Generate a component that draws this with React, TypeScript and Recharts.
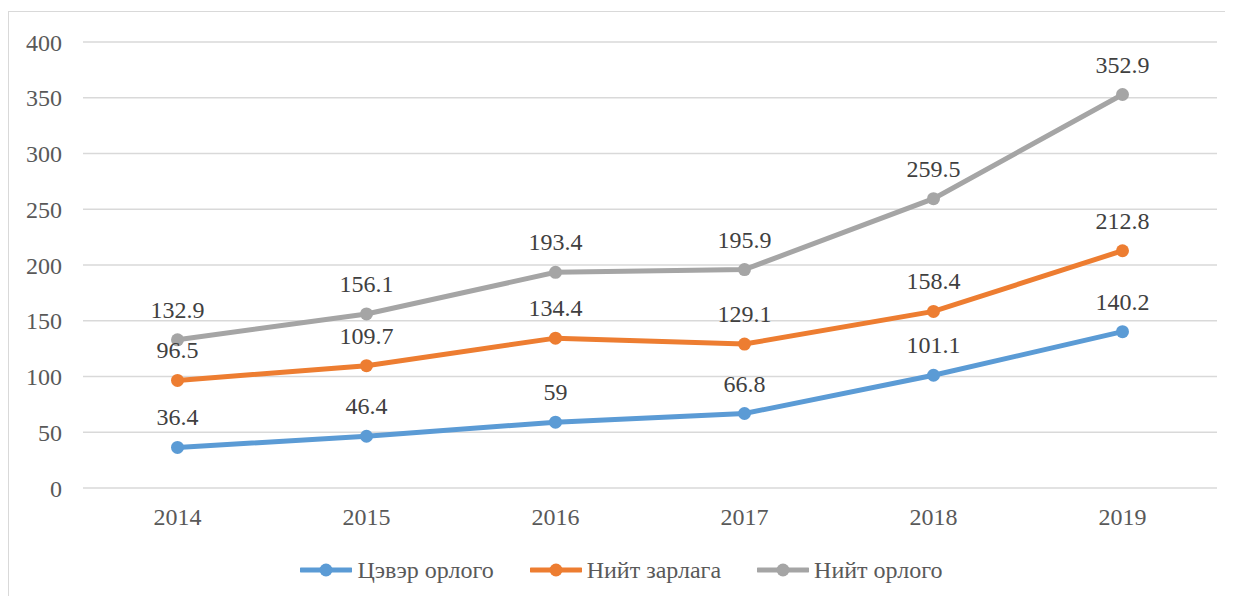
import React from 'react'
import { LineChart, Line, XAxis, YAxis, CartesianGrid, Legend, LabelList } from 'recharts'

const years = ['2014', '2015', '2016', '2017', '2018', '2019']
const netIncome = [36.4, 46.4, 59, 66.8, 101.1, 140.2]
const totalExpense = [96.5, 109.7, 134.4, 129.1, 158.4, 212.8]
const totalIncome = [132.9, 156.1, 193.4, 195.9, 259.5, 352.9]
const yTicks = [0, 50, 100, 150, 200, 250, 300, 350, 400]

const seriesList = [
  { key: 'net', name: 'Цэвэр орлого', color: '#5B9BD5' },
  { key: 'expense', name: 'Нийт зарлага', color: '#ED7D31' },
  { key: 'income', name: 'Нийт орлого', color: '#A5A5A5' },
]

const data = years.map((year, i) => ({
  year,
  net: netIncome[i],
  expense: totalExpense[i],
  income: totalIncome[i],
}))

const FONT = '"Liberation Serif", "Times New Roman", serif'

function LegendBox() {
  return (
    <div style={{ display: 'flex', justifyContent: 'center', alignItems: 'center', height: 30, paddingLeft: 17, fontFamily: FONT, fontSize: 24, color: '#595959' }}>
      {seriesList.map((s, i) => (
        <div key={s.key} style={{ display: 'flex', alignItems: 'center', marginLeft: i === 0 ? 0 : 36 }}>
          <svg width={52} height={16} style={{ marginRight: 5 }}>
            <line x1={1} y1={8} x2={51} y2={8} stroke={s.color} strokeWidth={5} strokeLinecap="round" />
            <circle cx={26} cy={8} r={6.5} fill={s.color} />
          </svg>
          <span>{s.name}</span>
        </div>
      ))}
    </div>
  )
}

export default function App() {
  return (
    <div style={{ width: 1225, height: 585, marginTop: 3, overflow: 'hidden', fontFamily: FONT }}>
      <div style={{ width: 1240, height: 600, border: '1px solid #d9d9d9', boxSizing: 'border-box' }}>
        <LineChart width={1225} height={585} data={data} margin={{ top: 30, right: 17, left: 0, bottom: 12 }}>
          <CartesianGrid vertical={false} stroke="#d9d9d9" strokeWidth={1.5} />
          <XAxis
            dataKey="year"
            axisLine={false}
            tickLine={false}
            height={67}
            tickMargin={14}
            padding={{ left: 94.5, right: 94.5 }}
            tick={{ fontSize: 24, fill: '#595959', fontFamily: FONT }}
          />
          <YAxis
            domain={[0, 400]}
            ticks={yTicks}
            width={74}
            axisLine={false}
            tickLine={false}
            tickMargin={15}
            tick={{ fontSize: 24, fill: '#595959', fontFamily: FONT }}
          />
          <Legend verticalAlign="bottom" content={() => <LegendBox />} />
          {seriesList.map((s) => (
            <Line
              key={s.key}
              dataKey={s.key}
              name={s.name}
              stroke={s.color}
              strokeWidth={5}
              dot={{ r: 6.5, fill: s.color, stroke: 'none' }}
              activeDot={false}
              isAnimationActive={false}
            >
              <LabelList dataKey={s.key} position="top" offset={22} fontFamily={FONT} fontSize={24} fill="#404040" />
            </Line>
          ))}
        </LineChart>
      </div>
    </div>
  )
}
